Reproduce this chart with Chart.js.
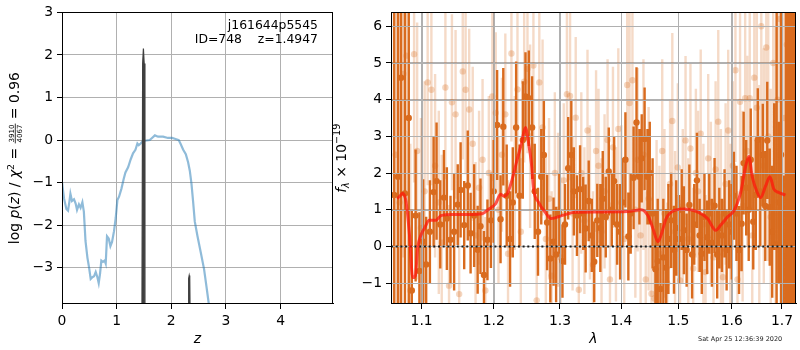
<!DOCTYPE html>
<html>
<head>
<meta charset="utf-8">
<script src="https://cdn.jsdelivr.net/npm/chart.js@4"></script>
<style>
body{margin:0;background:#fff;width:800px;height:350px;position:relative;overflow:hidden;font-family:"DejaVu Sans"}
#left{position:absolute;left:0;top:0;width:340px;height:350px}
#right{position:absolute;left:330px;top:0;width:470px;height:350px}
#stamp{position:absolute;left:698px;top:335px;font-size:6.5px;color:#222;white-space:nowrap}
</style>
</head>
<body>
<div id="left"><canvas id="pz"></canvas></div>
<div id="right"><canvas id="spec"></canvas></div>
<div id="stamp">Sat Apr 25 12:36:39 2020</div>
<script>

// LEFT PANEL DATA  (redshift posterior)

const zGrid=[0,0.037,0.08,0.11,0.135,0.154,0.183,0.22,0.25,0.275,0.31,0.34,0.373,0.40,0.43,0.465,0.495,0.525,0.556,0.586,0.617,0.648,0.672,0.696,0.72,0.75,0.78,0.80,0.824,0.855,0.886,0.916,0.952,0.983,1.014,1.044,1.088,1.13,1.161,1.21,1.258,1.30,1.344,1.38,1.405,1.44,1.483,1.546,1.606,1.648,1.70,1.758,1.85,1.94,2.015,2.064,2.137,2.174,2.216,2.266,2.308,2.339,2.37,2.40,2.43,2.48,2.54,2.60,2.645,2.687,2.75]
const logChi=[-0.99,-1.37,-1.62,-1.66,-1.45,-1.26,-1.43,-1.39,-1.49,-1.64,-1.51,-1.59,-1.46,-1.68,-2.37,-2.76,-2.99,-3.26,-3.22,-3.2,-3.10,-3.22,-3.36,-3.14,-2.83,-2.86,-2.83,-2.9,-2.26,-2.31,-2.49,-2.39,-2.14,-1.83,-1.41,-1.33,-1.14,-0.91,-0.76,-0.64,-0.45,-0.31,-0.23,-0.08,-0.12,-0.08,-0.02,-0.01,0,0.05,0.11,0.08,0.08,0.05,0.05,0.03,0,-0.10,-0.22,-0.33,-0.52,-0.72,-1.03,-1.45,-1.91,-2.26,-2.64,-3.03,-3.45,-3.85,-4.6]

// p(z) spikes, null breaks the line between the two peaks
const pzZ=[1.462,1.476,1.490,1.504,1.518,2.0,2.308,2.318,2.328,2.338,2.348]
const pzVal=[-4.5,1.8,2.15,1.8,-4.5,null,-4.5,-3.25,-3.18,-3.25,-4.5]

const zTicks=[0,1,2,3,4]
const zRange=[0,4.96]
const pzTicks=[-3,-2,-1,0,1,2,3]
const pzRange=[-3.85,3]

// RIGHT PANEL DATA  (spectrum, flux x 1e-19)

const darkLam=[1.064,1.069,1.073,1.078,1.083,1.087,1.092,1.097,1.102,1.106,
1.111,1.116,1.120,1.125,1.130,1.134,1.139,1.144,1.149,1.153,
1.158,1.163,1.167,1.172,1.177,1.181,1.186,1.191,1.196,1.200,
1.205,1.210,1.214,1.219,1.224,1.228,1.233,1.238,1.243,1.247,
1.252,1.257,1.261,1.266,1.271,1.275,1.280,1.285,1.290,1.294,
1.299,1.304,1.308,1.313,1.318,1.322,1.327,1.332,1.337,1.341,
1.346,1.351,1.355,1.360,1.365,1.369,1.374,1.379,1.384,1.388,
1.393,1.398,1.402,1.407,1.412,1.416,1.421,1.426,1.431,1.435,
1.440,1.445,1.449,1.454,1.459,1.463,1.468,1.473,1.478,1.482,
1.487,1.492,1.496,1.501,1.506,1.510,1.515,1.520,1.525,1.529,
1.534,1.539,1.543,1.548,1.553,1.557,1.562,1.567,1.572,1.576,
1.581,1.586,1.590,1.595,1.600,1.604,1.609,1.614,1.619,1.623,
1.628,1.633,1.637,1.642,1.647,1.651,1.656,1.661,1.666,1.670,
1.675,1.680,1.684,1.689,1.694,1.698,1.703,1.708,1.713,1.717,
1.722,1.727]
const darkFlux=[1.4,1.9,4.6,1.44,3.5,-1.2,0.84,-0.67,0.13,-0.49,
0.4,1.48,1.78,0.6,1.33,0.76,0.18,0.4,1.14,1.54,
0.58,1.66,0.36,0.84,-0.09,0.55,-0.78,0.18,0.71,1.5,
3.31,0.74,3.26,1.38,0.2,1.2,3.24,1.38,2.9,4.09,
4.04,3.24,1.5,0.4,1.9,2.49,0.65,-0.33,0.13,-0.22,
0.9,-0.4,0.6,2.13,2.49,1.5,0.84,1.56,0.9,0.49,
1.24,0.3,-0.42,0.71,0.5,1.3,0.8,2.04,1.0,1.78,
0.6,0.4,1.2,2.36,0.27,0.9,1.87,3.38,1.9,2.4,
2.93,1.9,2.0,0.9,-0.62,-0.4,-1.16,-0.3,-0.58,0.2,
0.71,-0.09,0.5,0.2,1.0,0.44,-0.1,1.13,-0.22,0.6,
1.8,0.3,-0.2,0.8,0.25,0.9,0.1,1.11,-0.22,0.5,
0.3,0.9,-0.1,0.6,0.4,1.38,0.9,-0.1,0.62,2.27,
1.6,1.0,2.36,0.67,1.4,2.91,1.5,2.49,1.1,2.89,
1.07,0.4,1.9,0.05,1.2,2.5,-0.27,1.0,1.35,2.0,
1.0,1.5]
const darkErr=[15,15,15,15,15,2.2,1.8,1.6,1.7,1.3,
1.4,1.5,1.6,1.2,1.3,1.4,1.2,1.6,1.1,1.3,
1.2,1.5,1.1,1.4,1.2,1.3,1.2,1.1,1.3,1.4,
1.5,1.2,1.6,1.4,1.3,1.5,1.8,1.4,1.6,1.2,
1.3,1.4,1.3,1.2,1.3,1.5,1.3,1.2,1.2,1.3,
1.1,1.0,1.1,1.4,1.5,1.2,1.1,1.2,1.0,1.2,
1.1,1.0,1.1,1.0,1.2,1.3,1.1,1.2,1.0,1.2,
1.1,1.3,1.2,1.3,1.2,1.1,1.4,1.5,1.3,1.2,
1.4,1.3,1.4,1.5,1.6,1.7,1.8,1.6,1.6,1.5,
1.3,1.2,1.3,1.2,1.1,1.2,1.0,1.1,1.2,1.1,
1.3,1.0,1.1,1.2,1.0,1.1,1.2,1.3,1.2,1.1,
1.0,1.2,1.1,1.2,1.3,1.2,1.3,1.2,1.3,1.4,
1.3,1.4,1.4,1.3,1.5,1.4,1.5,1.4,1.5,1.6,
1.6,1.8,2.0,15,2.2,15,2.2,15,15,15,
15,15]

const lightLam=[1.066,1.071,1.076,1.080,1.085,1.090,1.094,1.099,1.104,1.108,
1.113,1.118,1.123,1.127,1.132,1.137,1.141,1.146,1.151,1.156,
1.160,1.165,1.170,1.174,1.179,1.184,1.188,1.193,1.198,1.203,
1.207,1.212,1.217,1.221,1.226,1.231,1.235,1.240,1.245,1.250,
1.254,1.259,1.264,1.268,1.273,1.278,1.283,1.287,1.292,1.297,
1.301,1.306,1.311,1.316,1.320,1.325,1.330,1.334,1.339,1.344,
1.348,1.353,1.358,1.362,1.367,1.372,1.377,1.381,1.386,1.391,
1.395,1.400,1.405,1.410,1.414,1.419,1.424,1.428,1.433,1.438,
1.442,1.447,1.452,1.457,1.461,1.466,1.471,1.475,1.480,1.485,
1.489,1.494,1.499,1.503,1.508,1.513,1.518,1.522,1.527,1.532,
1.536,1.541,1.546,1.550,1.555,1.560,1.565,1.569,1.574,1.579,
1.583,1.588,1.593,1.597,1.602,1.607,1.611,1.616,1.621,1.626,
1.630,1.635,1.640,1.644,1.649,1.654,1.658,1.663,1.668,1.672,
1.677,1.682,1.687,1.691,1.696,1.701,1.705,1.710,1.715,1.719,
1.724]
const lightFlux=[2.5,1.2,4.7,5.2,-1.2,5.24,2.6,0.5,1.5,4.47,
4.27,2.2,1.2,0.1,4.33,-1.07,3.93,3.6,-1.3,4.77,
4.27,3.73,2.8,0.3,1.6,2.36,-1.2,2.0,4.09,3.64,
1.0,2.5,3.6,-0.2,5.26,2.0,4.28,0.4,4.49,4.84,
3.0,4.93,-1.47,4.47,3.24,0.2,1.3,-0.8,2.0,1.0,
-0.3,1.8,4.15,4.1,0.9,3.51,-1.18,2.0,0.7,3.16,
1.2,-0.5,2.6,2.2,0.4,1.5,2.9,-0.9,2.7,0.6,
3.2,1.2,0.2,4.4,3.91,4.53,1.0,2.36,0.3,2.5,
-0.9,1.3,-1.29,-1.42,0.6,-0.2,2.6,0.9,-1.0,1.7,
3.42,0.4,2.15,-0.93,1.1,2.89,0.2,2.67,-0.6,2.0,
1.5,3.07,0.6,-0.7,2.4,1.2,-0.3,2.1,3.4,0.8,
-0.84,1.7,3.16,0.5,2.2,4.8,-0.9,3.94,1.1,4.04,
2.6,4.04,0.3,4.6,3.78,1.4,6.0,2.2,5.42,3.0,
0.8,5.0,2.0,4.0,6.2,1.0,3.5,5.5,2.0,4.5,
3.0]
const lightErr=[6,6,5,4,4,3.5,3.5,3,3,2.8,
2.6,2.5,2.5,2.4,2.5,2.2,2.4,2.3,2.2,2.4,
2.3,2.2,2.1,2.0,2.1,2.2,2.0,2.1,2.3,2.2,
2.0,2.1,2.2,2.0,2.4,2.1,2.3,2.0,2.2,2.3,
2.5,2.8,2.4,2.6,2.4,2.3,2.2,2.3,2.2,2.1,
2.2,2.1,2.4,2.3,2.1,2.2,2.1,2.2,2.0,2.2,
2.1,2.0,2.2,2.1,2.0,2.1,2.2,2.1,2.2,2.1,
2.2,2.1,2.2,2.4,2.5,2.6,2.4,2.5,2.4,2.6,
2.4,2.5,2.6,2.4,2.3,2.4,2.5,2.3,2.2,2.3,
2.4,2.2,2.3,2.2,2.1,2.3,2.2,2.3,2.2,2.3,
2.2,2.3,2.2,2.1,2.3,2.2,2.3,2.4,2.5,2.4,
2.1,2.2,2.2,2.3,2.3,2.5,2.4,2.5,2.6,2.6,
2.6,2.7,2.7,2.8,2.8,3.0,3.1,3.2,3.3,3.4,
3.5,3.8,4,4.2,4.5,5,6,6,8,8,
8]

const modelLam=[1.068,1.0718,1.075,1.0796,1.0839,1.0882,1.0917,1.0947,1.0992,1.1036,
1.1102,1.1192,1.1259,1.1417,1.1648,1.1835,1.1932,1.2027,1.2100,1.2148,
1.2196,1.2270,1.2343,1.2409,1.2469,1.2518,1.2559,1.2593,1.2669,1.2771,
1.2863,1.3029,1.3240,1.3562,1.4115,1.4342,1.4457,1.4545,1.4633,1.4690,
1.4779,1.4929,1.5110,1.5352,1.5538,1.5692,1.5787,1.5915,1.6044,1.6172,
1.6269,1.6335,1.6400,1.6499,1.6565,1.6665,1.6753,1.6834,1.6935,1.7070]
const modelFlux=[1.3,1.38,1.45,1.2,0.32,-0.85,-0.8,-0.04,0.31,0.49,
0.71,0.71,0.84,0.87,0.87,0.89,1.02,1.16,1.42,1.37,
1.42,1.82,2.35,2.8,3.24,2.8,2.27,1.56,1.2,0.93,
0.76,0.84,0.93,0.94,0.95,1.0,0.84,0.49,0.13,0.31,
0.76,0.98,1.02,0.94,0.76,0.44,0.58,0.8,0.98,1.47,
2.18,2.45,1.9,1.47,1.33,1.64,1.9,1.56,1.47,1.4]

const lamTicks=[1.1,1.2,1.3,1.4,1.5,1.6,1.7]
const lamRange=[1.06,1.729]
const fluxTicks=[-1,0,1,2,3,4,5,6]
const fluxRange=[-1.57,6.38]


// HELPERS

Chart.defaults.font.family="DejaVu Sans"
Chart.defaults.font.size=13.9
Chart.defaults.color="#000"
Chart.defaults.animation=false

const FS="'DejaVu Sans'"
const GRID="#b0b0b0"
const DARK="#d96b1e"

const minus=v=>v<0?"\u2212"+Math.abs(v):String(v)

function errorSegments(lam,flux,err){
const pts=[]
lam.forEach((l,i)=>{
pts.push({x:l,y:flux[i]-err[i]},{x:l,y:flux[i]+err[i]},{x:l,y:null})
})
return pts
}

const pairs=(xs,ys)=>xs.map((x,i)=>({x:x,y:ys[i]}))

const fixTicks=list=>scale=>{scale.ticks=list.map(v=>({value:v}))}

function axis(range,ticks,fmt,extra){
return Object.assign({
type:"linear",min:range[0],max:range[1],
afterBuildTicks:fixTicks(ticks),
ticks:{callback:fmt,autoSkip:false,maxRotation:0,padding:4},
grid:{color:GRID,tickColor:"#000",tickLength:5,lineWidth:1},
border:{color:"#000"}
},extra)
}

// frame round the plot area
const frame={id:"frame",afterDraw(c){
const ctx=c.ctx,a=c.chartArea
ctx.save()
ctx.strokeStyle="#000"
ctx.lineWidth=1
ctx.strokeRect(Math.round(a.left)+0.5,Math.round(a.top)+0.5,Math.round(a.right-a.left)-1,Math.round(a.bottom-a.top)-1)
ctx.restore()
}}

// draws a run of text pieces, rotated, centred on y
function richVertical(ctx,x,yc,parts){
ctx.save()
ctx.translate(x,yc)
ctx.rotate(-Math.PI/2)
ctx.fillStyle="#000"
ctx.strokeStyle="#000"
ctx.textBaseline="alphabetic"
let w=0
parts.forEach(p=>{
ctx.font=p.font
if(p.frac){p.w=Math.max(ctx.measureText(p.frac[0]).width,ctx.measureText(p.frac[1]).width)+2}
else{p.w=ctx.measureText(p.t).width}
w+=p.w
})
let cx=-w/2
parts.forEach(p=>{
ctx.font=p.font
if(p.frac){
ctx.textAlign="center"
ctx.fillText(p.frac[0],cx+p.w/2,p.dy-1.5)
ctx.fillText(p.frac[1],cx+p.w/2,p.dy+6.5)
ctx.lineWidth=0.8
ctx.beginPath()
ctx.moveTo(cx,p.dy);ctx.lineTo(cx+p.w,p.dy)
ctx.stroke()
ctx.textAlign="left"
}else{
ctx.textAlign="left"
ctx.fillText(p.t,cx,p.dy)
}
cx+=p.w
})
ctx.restore()
}

const leftTitle={id:"leftTitle",afterDraw(c){
const a=c.chartArea
const n="13.9px "+FS, it="italic 13.9px "+FS, sm="9.5px "+FS, tiny="7px "+FS
const b=19.3
richVertical(c.ctx,0,(a.top+a.bottom)/2,[
{t:"log ",font:n,dy:b},
{t:"p",font:it,dy:b},
{t:"(",font:n,dy:b},
{t:"z",font:it,dy:b},
{t:") / ",font:n,dy:b},
{t:"\u03c7",font:it,dy:b},
{t:"2",font:sm,dy:b-5.5},
{t:" = ",font:n,dy:b},
{frac:["3910","4067"],font:tiny,dy:b-4},
{t:" = 0.96",font:n,dy:b}
])
}}

const annot={id:"annot",afterDraw(c){
const ctx=c.ctx
ctx.save()
ctx.fillStyle="#000"
ctx.font="12.4px "+FS
ctx.textAlign="right"
ctx.textBaseline="alphabetic"
ctx.fillText("j161644p5545",318,28.5)
ctx.fillText("ID=748    z=1.4947",318,42.5)
ctx.restore()
}}

const rightTitle={id:"rightTitle",afterDraw(c){
const a=c.chartArea
const n="13.9px "+FS, it="italic 13.9px "+FS, sm="9.7px "+FS, smit="italic 9.7px "+FS
const b=16
richVertical(c.ctx,0,(a.top+a.bottom)/2,[
{t:"f",font:it,dy:b},
{t:"\u03bb",font:smit,dy:b+3},
{t:" \u00d7 10",font:n,dy:b},
{t:"\u221219",font:sm,dy:b-6}
])
}}

// grid drawn over the error bars, under the model
const gridOver={id:"gridOver",afterDatasetDraw(c,args){
if(args.index!==2) return
const ctx=c.ctx,a=c.chartArea,sx=c.scales.x,sy=c.scales.y
ctx.save()
ctx.strokeStyle=GRID
ctx.lineWidth=1
ctx.beginPath()
sx.ticks.forEach(t=>{const p=Math.round(sx.getPixelForValue(t.value))+0.5;ctx.moveTo(p,a.top);ctx.lineTo(p,a.bottom)})
sy.ticks.forEach(t=>{const p=Math.round(sy.getPixelForValue(t.value))+0.5;ctx.moveTo(a.left,p);ctx.lineTo(a.right,p)})
ctx.stroke()
ctx.restore()
}}


// LEFT CHART

new Chart(document.getElementById("pz"),{
type:"line",
data:{datasets:[
{data:pairs(pzZ,pzVal),borderColor:"#3f3f3f",backgroundColor:"#3f3f3f",fill:"start",borderWidth:1.2,pointRadius:0,spanGaps:false,clip:0,order:1},
{data:pairs(zGrid,logChi),borderColor:"rgba(31,119,180,0.5)",borderWidth:2.2,pointRadius:0,clip:0,order:2}
]},
options:{
responsive:true,maintainAspectRatio:false,
layout:{padding:{top:7,right:7,left:0,bottom:0}},
plugins:{legend:{display:false},tooltip:{enabled:false}},
scales:{
x:axis(zRange,zTicks,v=>minus(v),{
title:{display:true,text:"z",font:{style:"italic",size:14},padding:{top:2,bottom:2}},
afterFit:s=>{s.height=46}
}),
y:axis(pzRange,pzTicks,v=>minus(v),{afterFit:s=>{s.width=62}})
}
},
plugins:[frame,leftTitle,annot]
})


// RIGHT CHART

new Chart(document.getElementById("spec"),{
type:"line",
data:{datasets:[
{data:pairs(modelLam,modelFlux),borderColor:"rgba(255,20,10,0.72)",borderWidth:3,pointRadius:0,cubicInterpolationMode:"monotone",clip:0,order:1},
{data:pairs(lamRange,[0,0]),borderColor:"#1a1a1a",borderWidth:2,borderDash:[2,2.7],pointRadius:0,clip:0,order:2},
{data:pairs(darkLam,darkFlux),showLine:false,pointRadius:3.2,pointBackgroundColor:DARK,pointBorderWidth:0,clip:0,order:3},
{data:errorSegments(darkLam,darkFlux,darkErr),borderColor:DARK,borderWidth:2.4,pointRadius:0,spanGaps:false,clip:0,order:4},
{data:pairs(lightLam,lightFlux),showLine:false,pointRadius:3.2,pointBackgroundColor:"rgba(217,107,30,0.28)",pointBorderWidth:0,clip:0,order:5},
{data:errorSegments(lightLam,lightFlux,lightErr),borderColor:"rgba(217,107,30,0.25)",borderWidth:2.4,pointRadius:0,spanGaps:false,clip:0,order:6}
]},
options:{
responsive:true,maintainAspectRatio:false,
layout:{padding:{top:6,right:1,left:0,bottom:0}},
plugins:{legend:{display:false},tooltip:{enabled:false}},
scales:{
x:axis(lamRange,lamTicks,v=>Number(v).toFixed(1),{
type:"logarithmic",
title:{display:true,text:"\u03bb",font:{style:"italic",size:14},padding:{top:2,bottom:2}},
afterFit:s=>{s.height=46}
}),
y:axis(fluxRange,fluxTicks,v=>minus(v),{afterFit:s=>{s.width=61}})
}
},
plugins:[gridOver,frame,rightTitle]
})

</script>
</body>
</html>
